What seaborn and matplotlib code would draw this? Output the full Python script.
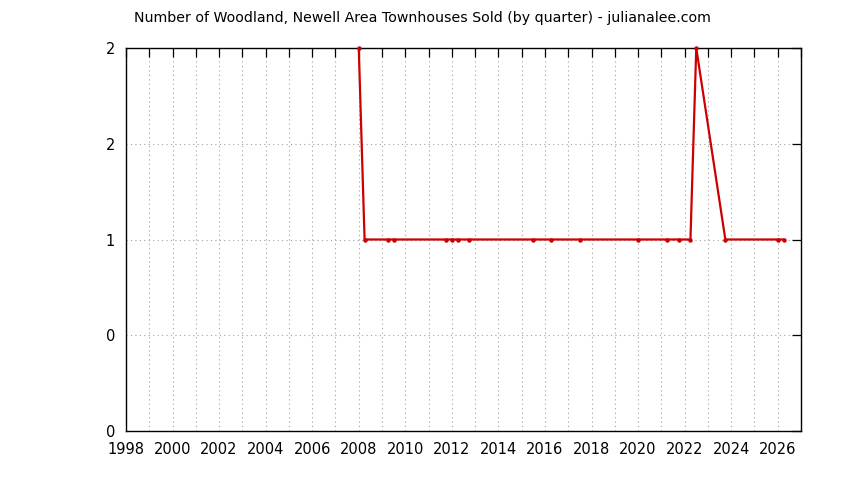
import matplotlib
matplotlib.use("Agg")
import matplotlib.pyplot as plt
from matplotlib.ticker import MultipleLocator, FixedLocator, FixedFormatter
import seaborn as sns
import pandas as pd

quarters = [2008.0, 2008.25, 2009.25, 2009.5, 2011.75, 2012.0, 2012.25, 2012.75,
            2015.5, 2016.25, 2017.5, 2020.0, 2021.25, 2021.75, 2022.25, 2022.5,
            2023.75, 2026.0, 2026.25]
sold = [2, 1, 1, 1, 1, 1, 1, 1, 1, 1, 1, 1, 1, 1, 1, 2, 1, 1, 1]
y_tick_values = [0, 0.5, 1, 1.5, 2]
y_tick_labels = ["0", "0", "1", "2", "2"]
title = "Number of Woodland, Newell Area Townhouses Sold (by quarter) - julianalee.com"

df = pd.DataFrame({"quarter": quarters, "sold": sold})

sns.set_theme(style="white")
plt.rcParams["font.family"] = ["DejaVu Sans"]

fig = plt.figure(figsize=(8.44, 4.8), dpi=100)
ax = fig.add_axes([126 / 844, 1 - 431 / 480, (801 - 126) / 844, (431 - 48) / 480])

sns.lineplot(data=df, x="quarter", y="sold", ax=ax, color="#cc0000",
             linewidth=1.6, marker="o", markersize=3.2, markeredgewidth=0,
             clip_on=False, zorder=5)

ax.set_xlim(1998, 2027)
ax.set_ylim(0, 2)
ax.xaxis.set_major_locator(MultipleLocator(2))
ax.xaxis.set_minor_locator(MultipleLocator(1))
ax.xaxis.set_major_formatter(matplotlib.ticker.FuncFormatter(lambda v, p: f"{int(round(v))}"))
ax.yaxis.set_major_locator(FixedLocator(y_tick_values))
ax.yaxis.set_major_formatter(FixedFormatter(y_tick_labels))

ax.tick_params(axis="both", which="both", direction="in", length=6.5, width=0.9,
               color="black", top=True, right=True, labelsize=10.5, labelcolor="black")
ax.tick_params(axis="x", which="both", pad=8)
ax.tick_params(axis="y", which="both", pad=8)

ax.grid(True, which="both", axis="both", color="#a0a0a0", linestyle=(0, (1, 3)), linewidth=0.8)
ax.set_axisbelow(True)
for s in ax.spines.values():
    s.set_visible(True)
    s.set_color("black")
    s.set_linewidth(1.0)

ax.set_xlabel("")
ax.set_ylabel("")
fig.text(422 / 844, 1 - 18 / 480, title, ha="center", va="center", fontsize=10.2, color="black")

fig.savefig("out.png", dpi=100, facecolor="white")
